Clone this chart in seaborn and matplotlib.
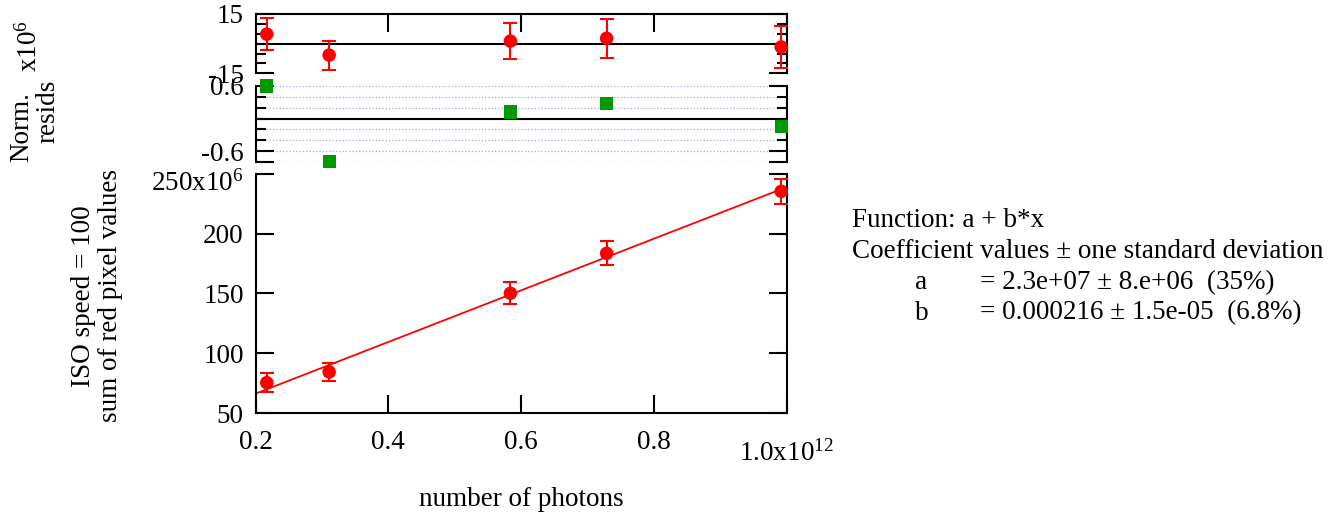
import numpy as np
import pandas as pd
import seaborn as sns
import matplotlib
matplotlib.use("Agg")
import matplotlib.pyplot as plt
from matplotlib.transforms import ScaledTranslation

# values (x in 1e12 photons, y in 1e6)
photons = [0.217, 0.311, 0.584, 0.729, 0.992]
signal = [75.4, 84.3, 150.2, 183.6, 235.5]
signal_err = [8.0, 7.5, 9.2, 10.0, 10.6]
resid = [4.8, -5.8, 1.3, 2.7, -1.7]
resid_err = [8.0, 7.3, 9.1, 9.8, 10.8]
norm_resid = [0.60, -0.79, 0.12, 0.28, -0.15]
fit_x = [0.2, 1.0]
fit_y = [66.2, 239.0]

x_ticks = [0.2, 0.4, 0.6, 0.8, 1.0]
x_labels = ["0.2", "0.4", "0.6", "0.8", "1.0x10$^{12}$"]
y_ticks = [50, 100, 150, 200, 250]
y_labels = ["50", "100", "150", "200", "250x10$^{6}$"]

info_lines = ["Function: a + b*x", "Coefficient values \u00b1 one standard deviation"]
coef_names = ["a", "b"]
coef_vals = ["= 2.3e+07 \u00b1 8.e+06  (35%)", "= 0.000216 \u00b1 1.5e-05  (6.8%)"]

df = pd.DataFrame({"x": photons, "y": signal, "err": signal_err,
                   "res": resid, "res_err": resid_err, "nres": norm_resid})

sns.set_style("ticks")
plt.rcParams["font.family"] = ["Liberation Serif", "DejaVu Serif"]
plt.rcParams["mathtext.fontset"] = "custom"
plt.rcParams["mathtext.rm"] = "Liberation Serif"
plt.rcParams["mathtext.default"] = "regular"
plt.rcParams["text.color"] = "black"
plt.rcParams["xtick.color"] = "black"
plt.rcParams["ytick.color"] = "black"

FS = 19.5
RED = "#ff0000"
GREEN = "#009900"

fig = plt.figure(figsize=(13.38, 5.18), dpi=100)
L, W = 0.19096, 0.39686
ax_top = fig.add_axes([L, 0.8585, W, 0.1145])
ax_mid = fig.add_axes([L, 0.6873, W, 0.1467])
ax = fig.add_axes([L, 0.2027, W, 0.4614])

for a in (ax_top, ax_mid, ax):
    a.set_xlim(0.2, 1.0)
    a.set_facecolor("none")
    for s in a.spines.values():
        s.set_linewidth(1.5)
        s.set_color("black")
    a.tick_params(which="major", direction="in", length=13, width=1.5,
                  labelsize=FS, pad=8.5, colors="black")
    a.tick_params(which="minor", direction="in", length=7, width=1.5)

# ---- main panel
ax.errorbar(df["x"], df["y"], yerr=df["err"], fmt="none", ecolor=RED,
            elinewidth=1.5, capsize=5, capthick=1.5, zorder=3, clip_on=False)
sns.scatterplot(data=df, x="x", y="y", ax=ax, color=RED, s=95,
                edgecolor="none", zorder=4, clip_on=False)
sns.lineplot(x=fit_x, y=fit_y, ax=ax, color=RED, linewidth=1.3, zorder=2)
ax.set_ylim(50, 250)
ax.set_xticks(x_ticks)
ax.set_xticklabels(x_labels)
ax.set_yticks(y_ticks)
ax.set_yticklabels(y_labels)
ax.tick_params(axis="x", pad=12)
ax.tick_params(axis="y", left=True, right=True)
ax.spines["top"].set_visible(False)
ax.set_xlabel("")
ax.set_ylabel("")

# exponent labels sit a little lower, as in the original
lbl = ax.xaxis.get_major_ticks()[-1].label1
lbl.set_transform(lbl.get_transform() + ScaledTranslation(0, -0.1, fig.dpi_scale_trans))
lbl = ax.yaxis.get_major_ticks()[-1].label1
lbl.set_transform(lbl.get_transform() + ScaledTranslation(0, -0.06, fig.dpi_scale_trans))

# ---- residual panel (x1e6)
ax_top.axhline(0, color="black", linewidth=1.5, zorder=1)
ax_top.errorbar(df["x"], df["res"], yerr=df["res_err"], fmt="none", ecolor=RED,
                elinewidth=1.5, capsize=5, capthick=1.5, zorder=3, clip_on=False)
sns.scatterplot(data=df, x="x", y="res", ax=ax_top, color=RED, s=95,
                edgecolor="none", zorder=4, clip_on=False)
ax_top.set_ylim(-15, 15)
ax_top.set_yticks([-15, 15])
ax_top.set_yticklabels(["-15", "15"])
ax_top.set_yticks([-10, -5, 0, 5, 10], minor=True)
ax_top.set_xticks([0.4, 0.6, 0.8])
ax_top.tick_params(axis="x", bottom=False, top=True, labelbottom=False)
ax_top.tick_params(axis="y", which="both", left=True, right=True)
ax_top.spines["bottom"].set_visible(False)
ax_top.set_xlabel("")
ax_top.set_ylabel("")

# ---- normalised residuals
ax_mid.grid(axis="y", which="both", color="#8c8cff", linestyle=":",
            linewidth=0.9, alpha=0.8)
ax_mid.axhline(0, color="black", linewidth=1.5, zorder=1)
sns.scatterplot(data=df, x="x", y="nres", ax=ax_mid, color=GREEN, s=90,
                marker="s", edgecolor="none", zorder=4, clip_on=False)
ax_mid.set_ylim(-0.8, 0.6)
ax_mid.set_yticks([-0.8, -0.6, 0.6])
ax_mid.set_yticklabels(["", "-0.6", "0.6"])
ax_mid.set_yticks([-0.4, -0.2, 0, 0.2, 0.4], minor=True)
ax_mid.set_xticks([])
ax_mid.tick_params(axis="y", which="both", left=True, right=True)
ax_mid.spines["top"].set_visible(False)
ax_mid.spines["bottom"].set_visible(False)
ax_mid.set_xlabel("")
ax_mid.set_ylabel("")


def px(x, y):
    return x / 1338, 1 - y / 518


# axis labels
fig.text(*px(29, 46), "x10$^{6}$", rotation=90, ha="center", va="center", fontsize=FS)
fig.text(*px(22, 127), "Norm.", rotation=90, ha="center", va="center", fontsize=FS)
fig.text(*px(48, 111), "resids", rotation=90, ha="center", va="center", fontsize=FS)
fig.text(*px(97, 296), "ISO speed = 100\nsum of red pixel values", rotation=90,
         ha="center", va="center", multialignment="center", fontsize=FS,
         linespacing=1.15)
fig.text(*px(521, 500), "number of photons", ha="center", va="center", fontsize=FS)

# fit info
for i, line in enumerate(info_lines):
    fig.text(*px(852, 221 + 30.7 * i), line, ha="left", va="center", fontsize=FS)
for i, (nm, val) in enumerate(zip(coef_names, coef_vals)):
    yy = 221 + 30.7 * (i + 2)
    fig.text(*px(915, yy), nm, ha="left", va="center", fontsize=FS)
    fig.text(*px(980, yy), val, ha="left", va="center", fontsize=FS)

fig.savefig("out.png", dpi=100)
